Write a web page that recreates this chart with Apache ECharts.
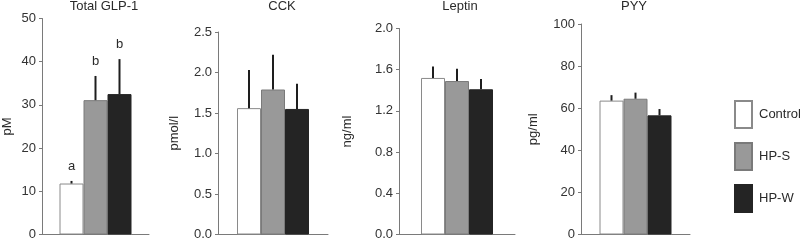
<!DOCTYPE html>
<html>
<head>
<meta charset="utf-8">
<script src="https://cdn.jsdelivr.net/npm/echarts@6/dist/echarts.min.js"></script>
<style>
  html, body { margin: 0; padding: 0; background: #fff; }
  #main { width: 800px; height: 242px; }
</style>
</head>
<body>
<div id="main"></div>
<script>
// groups
const groups = ['Control', 'HP-S', 'HP-W'];

// panel titles and units
const titles = ['Total GLP-1', 'CCK', 'Leptin', 'PYY'];
const units = ['pM', 'pmol/l', 'ng/ml', 'pg/ml'];

// means and upper error (SEM)
const glpMean = [11.8, 31.1, 32.5];
const glpErr = [0.6, 5.6, 8.1];
const glpLetters = ['a', 'b', 'b'];
const cckMean = [1.56, 1.79, 1.55];
const cckErr = [0.47, 0.43, 0.31];
const leptinMean = [1.52, 1.49, 1.41];
const leptinErr = [0.11, 0.12, 0.10];
const pyyMean = [63.6, 64.5, 56.6];
const pyyErr = [2.6, 2.9, 3.0];

// y axis ranges
const yMax = [50, 2.5, 2.0, 100];
const yStep = [10, 0.5, 0.4, 20];
const yDigits = [0, 1, 1, 0];

const means = [glpMean, cckMean, leptinMean, pyyMean];
const errs = [glpErr, cckErr, leptinErr, pyyErr];
const letters = [glpLetters, null, null, null];

const BAR_W = 24;
const fills = ['#ffffff', '#999999', '#242424'];
const borders = ['#8a8a8a', '#7a7a7a', '#242424'];

const grids = [
  { left: 41, top: 18.5, width: 108, height: 216 },
  { left: 218, top: 32, width: 110, height: 202.5 },
  { left: 399, top: 28.5, width: 116, height: 206 },
  { left: 581, top: 24, width: 109, height: 210.5 }
];
const titleX = [104, 282, 460, 634];
const nameGaps = [28, 37, 45, 41];

const axisColor = '#7a7a7a';
const txtColor = '#2a2a2a';
const font = 'Liberation Sans, Arial, sans-serif';

var xAxes = [], yAxes = [], series = [], titleList = [];

grids.forEach(function (g, p) {
  titleList.push({
    text: titles[p],
    left: titleX[p], top: 0, padding: 0,
    textAlign: 'center',
    textStyle: { fontSize: 13, fontWeight: 'normal', color: txtColor, fontFamily: font }
  });
  xAxes.push({
    type: 'category', gridIndex: p, data: [''],
    axisLine: { lineStyle: { color: axisColor, width: 1 } },
    axisTick: { show: false }, axisLabel: { show: false }
  });
  yAxes.push({
    type: 'value', gridIndex: p, min: 0, max: yMax[p], interval: yStep[p],
    name: units[p], nameLocation: 'middle', nameGap: nameGaps[p],
    nameTextStyle: { fontSize: 13, color: txtColor, fontFamily: font },
    splitLine: { show: false },
    axisLine: { show: true, lineStyle: { color: axisColor, width: 1 } },
    axisTick: { show: true, length: 3, lineStyle: { color: axisColor } },
    axisLabel: {
      fontSize: 13, color: '#333', fontFamily: font, margin: 6,
      formatter: function (v) { return v.toFixed(yDigits[p]); }
    }
  });
  groups.forEach(function (name, i) {
    series.push({
      name: name, type: 'bar', xAxisIndex: p, yAxisIndex: p,
      barWidth: BAR_W, barGap: '0%',
      data: [means[p][i]],
      itemStyle: { color: fills[i], borderColor: borders[i], borderWidth: 1 },
      emphasis: { disabled: true }
    });
  });
  series.push({
    type: 'custom', xAxisIndex: p, yAxisIndex: p, z: 5,
    data: means[p].map(function (m, i) { return [0, m, errs[p][i], i]; }),
    renderItem: function (params, api) {
      var m = api.value(1), e = api.value(2), i = api.value(3);
      var base = api.coord([0, m]);
      var top = api.coord([0, m + e]);
      var x = base[0] + (i - 1) * BAR_W;
      var children = [{
        type: 'line',
        shape: { x1: x, y1: base[1], x2: x, y2: top[1] },
        style: { stroke: '#1e1e1e', lineWidth: 2 }
      }];
      if (letters[p]) {
        children.push({
          type: 'text',
          style: {
            text: letters[p][i], x: x, y: top[1] - 8,
            align: 'center', verticalAlign: 'bottom',
            fontSize: 13, fill: txtColor, fontFamily: font
          }
        });
      }
      return { type: 'group', children: children };
    }
  });
});

var chart = echarts.init(document.getElementById('main'));
chart.setOption({
  animation: false,
  backgroundColor: '#fff',
  title: titleList,
  grid: grids,
  xAxis: xAxes,
  yAxis: yAxes,
  legend: {
    data: groups, orient: 'vertical', left: 734, top: 100, padding: 0,
    itemWidth: 17, itemHeight: 27, itemGap: 13, icon: 'rect',
    textStyle: { fontSize: 13, color: txtColor, fontFamily: font, padding: [0, 0, 0, 2] },
    selectedMode: false
  },
  series: series
});
</script>
</body>
</html>
